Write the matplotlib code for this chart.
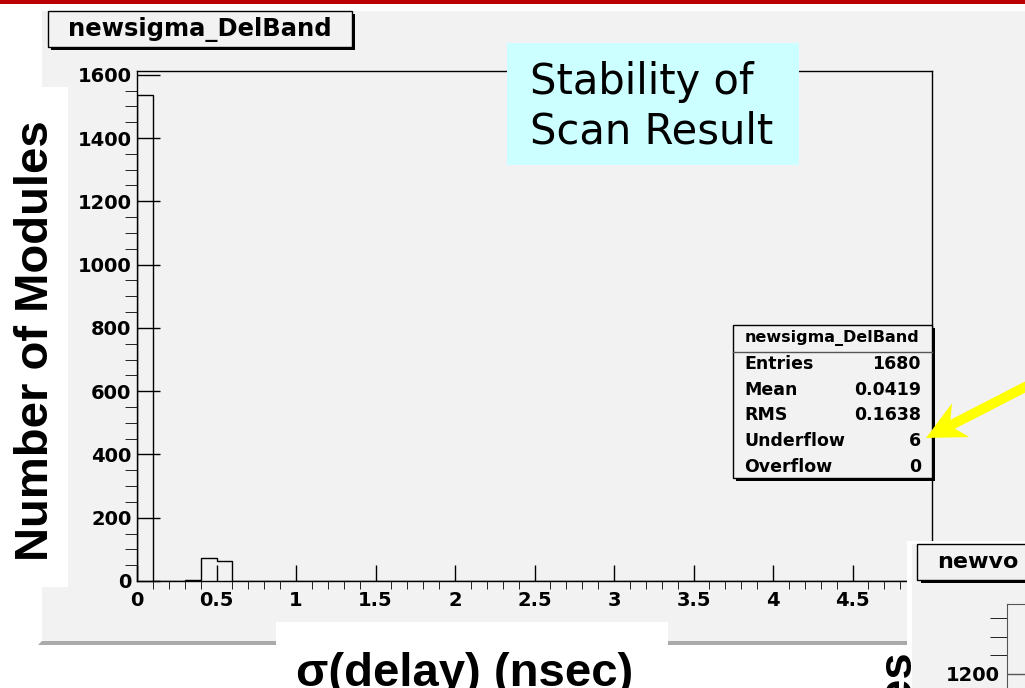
import numpy as np
import matplotlib
matplotlib.use("Agg")
import matplotlib.pyplot as plt
from matplotlib.patches import Rectangle, Polygon
from matplotlib.transforms import Affine2D
from matplotlib.ticker import MultipleLocator, FuncFormatter

# ---- histogram content: newsigma_DelBand, 50 bins over [0, 5) ns ----
bin_lo, bin_hi, n_bins = 0.0, 5.0, 50
counts = [1535, 0, 0, 2, 73, 64, 0, 0, 0, 0,
          0, 0, 0, 0, 0, 0, 0, 0, 0, 0,
          0, 0, 0, 0, 0, 0, 0, 0, 0, 0,
          0, 0, 0, 0, 0, 0, 0, 0, 0, 0,
          0, 0, 0, 0, 0, 0, 0, 0, 0, 0]

hist_name = "newsigma_DelBand"
stat_names = ["Entries", "Mean", "RMS", "Underflow", "Overflow"]
stat_values = ["1680", "0.0419", "0.1638", "6", "0"]

x_title = "\u03c3(delay) (nsec)"
y_title = "Number of Modules"
note_lines = ["Stability of", "Scan Result"]
next_hist_name = "newvo"
next_tick_value = 1200

W, H = 1025, 688
plt.rcParams["font.family"] = ["DejaVu Sans"]
plt.rcParams["font.weight"] = "bold"

fig = plt.figure(figsize=(W / 100, H / 100), dpi=100)
fig.patch.set_facecolor("white")

# pixel coordinates with origin at top-left
PX = Affine2D().scale(1 / W, -1 / H).translate(0, 1) + fig.transFigure
GRAY = "#f2f2f2"


def rect(x0, y0, x1, y1, z, **kw):
    r = Rectangle((x0, y0), x1 - x0, y1 - y0, transform=PX, zorder=z, **kw)
    fig.add_artist(r)
    return r


def px_axes(l, t, r, b, z=0):
    a = fig.add_axes([l / W, 1 - b / H, (r - l) / W, (b - t) / H])
    a.set_zorder(z)
    return a


# slide header bar and ROOT canvas
rect(0, 0, W, 3.7, -5, facecolor="#bb0000", edgecolor="none")
rect(42, 11, W + 5, 641, -5, facecolor=GRAY, edgecolor="none")
fig.add_artist(Polygon([(38, 645), (42, 641), (W + 5, 641), (W + 5, 645)],
                       closed=True, transform=PX, facecolor="#aaaaaa",
                       edgecolor="none", zorder=-4))

# ---- main histogram frame ----
ax = px_axes(137, 71, 932, 581, z=0)
ax.set_facecolor("none")
edges = np.linspace(bin_lo, bin_hi, n_bins + 1)
ax.stairs(counts, edges, color="black", linewidth=1.0)
ax.set_xlim(bin_lo, bin_hi)
ax.set_ylim(0, 1.05 * max(counts))
for s in ax.spines.values():
    s.set_color("black")
    s.set_linewidth(1.0)

ax.xaxis.set_major_locator(MultipleLocator(0.5))
ax.xaxis.set_minor_locator(MultipleLocator(0.1))
ax.yaxis.set_major_locator(MultipleLocator(200))
ax.yaxis.set_minor_locator(MultipleLocator(50))
ax.xaxis.set_major_formatter(FuncFormatter(lambda v, p: f"{v:g}"))
ax.yaxis.set_major_formatter(FuncFormatter(lambda v, p: f"{v:g}"))
ax.tick_params(direction="in", top=False, right=False, colors="black",
               labelsize=14, width=1.0)
ax.tick_params(axis="x", which="major", length=11.5, pad=7)
ax.tick_params(axis="x", which="minor", length=5.8)
ax.tick_params(axis="y", which="major", length=16.5, pad=4)
ax.tick_params(axis="y", which="minor", length=8.5)

# histogram title box
rect(51, 14, 355, 50, 2, facecolor="black", edgecolor="none")
rect(48, 11, 352, 47, 2, facecolor=GRAY, edgecolor="black", linewidth=1)
fig.text(200, 29.5, hist_name, transform=PX, ha="center", va="center",
         fontsize=17.5, zorder=3)

# statistics box
rect(736, 328, 935, 481, 2, facecolor="black", edgecolor="none")
rect(733, 325, 932, 478, 2, facecolor=GRAY, edgecolor="black", linewidth=1)
fig.add_artist(plt.Line2D([733, 932], [352, 352], transform=PX, color="#555555",
                          linewidth=1, zorder=3))
fig.text(832, 338, hist_name, transform=PX, ha="center", va="center",
         fontsize=11.5, zorder=3)
for i, (name, val) in enumerate(zip(stat_names, stat_values)):
    yy = 364 + i * 25.7
    fig.text(744, yy, name, transform=PX, ha="left", va="center",
             fontsize=12.5, zorder=3)
    fig.text(921, yy, val, transform=PX, ha="right", va="center",
             fontsize=12.5, zorder=3)

# yellow arrow pointing at the underflow count
tip = np.array([926.0, 438.0])
u = np.array([0.889, -0.457])
n = np.array([0.457, 0.889])
head_len, head_half, notch, shaft_half = 39.0, 19.0, 30.0, 5.0
base = tip + u * head_len
tail = tip + u * 140
arrow_pts = [tip, base + n * head_half, tip + u * notch + n * shaft_half,
             tail + n * shaft_half, tail - n * shaft_half,
             tip + u * notch - n * shaft_half, base - n * head_half]
fig.add_artist(Polygon(arrow_pts, closed=True, transform=PX,
                       facecolor="#ffff00", edgecolor="none", zorder=4))

# slide annotation box
rect(507, 43, 799, 165, 3, facecolor="#ccffff", edgecolor="none")
for i, line in enumerate(note_lines):
    fig.text(530, 94 + i * 49, line, transform=PX, ha="left", va="baseline",
             fontsize=30, fontweight="normal", zorder=4)

# axis titles on white slide patches
rect(0, 87, 68, 587, 3, facecolor="white", edgecolor="none")
fig.text(36, 341, y_title, transform=PX, rotation=90, ha="center",
         va="center", fontsize=34, family=["Liberation Sans", "DejaVu Sans"],
         zorder=4)
rect(276, 622, 668, H + 5, 3, facecolor="white", edgecolor="none")
fig.text(465, 686, x_title, transform=PX, ha="center", va="baseline",
         fontsize=34, family=["Liberation Sans", "DejaVu Sans"], zorder=4)

# ---- neighbouring canvas peeking in at the lower right ----
rect(907, 541, W + 5, H + 5, 5, facecolor="white", edgecolor="none")
rect(912, 544, W + 5, H + 5, 5, facecolor=GRAY, edgecolor="none")
rect(921, 548, W + 10, 583, 6, facecolor="black", edgecolor="none")
rect(917, 544, W + 10, 580, 6, facecolor=GRAY, edgecolor="black", linewidth=1)
fig.text(937, 562, next_hist_name, transform=PX, ha="left", va="center",
         fontsize=16, zorder=7)

# visible corner of the neighbouring frame: 0.37 px per count
ax2 = px_axes(1007, 604, 1200, H, z=6)
ax2.set_facecolor("none")
ax2.set_xlim(0, 1)
ax2.set_ylim(next_tick_value - 227 + 189, next_tick_value + 189)
for s in ax2.spines.values():
    s.set_color("#555555")
ax2.spines["bottom"].set_visible(False)
ax2.xaxis.set_visible(False)
ax2.yaxis.set_major_locator(MultipleLocator(200))
ax2.yaxis.set_minor_locator(MultipleLocator(50))
ax2.yaxis.set_major_formatter(FuncFormatter(lambda v, p: f"{v:g}"))
ax2.tick_params(axis="y", direction="in", colors="#555555", labelcolor="black",
                labelsize=14, width=1.0, pad=5)
ax2.tick_params(axis="y", which="major", length=16)
ax2.tick_params(axis="y", which="minor", length=12)

ax_es = px_axes(857, 616, 934, H + 5, z=7)
ax_es.set_facecolor("white")
ax_es.set_axis_off()
ax_es.patch.set_visible(True)
ax_es.set_xlim(857, 934)
ax_es.set_ylim(H + 5, 616)
ax_es.text(912, 652, y_title, rotation=90, rotation_mode="anchor",
           ha="right", va="baseline", fontsize=34,
           family=["Liberation Sans", "DejaVu Sans"], clip_on=True)

fig.savefig("out.png", dpi=100, facecolor="white")
